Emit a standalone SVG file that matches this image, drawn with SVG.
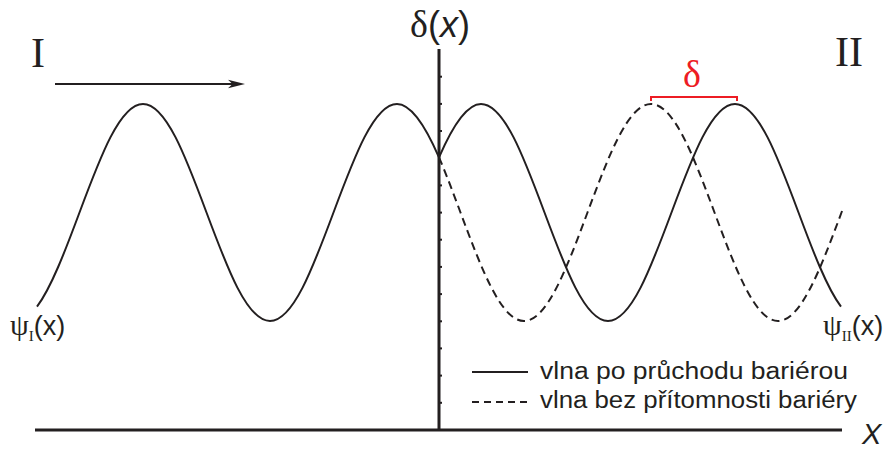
<svg xmlns="http://www.w3.org/2000/svg" width="892" height="450" viewBox="0 0 892 450">
<style>
.ln{fill:none;stroke:#231f20;stroke-width:2}
.dash{fill:none;stroke:#231f20;stroke-width:2;stroke-dasharray:8 5}
.axis{fill:none;stroke:#231f20;stroke-width:3}
.tick{stroke:#231f20;stroke-width:2}
.serif{font-family:"Liberation Serif","Times New Roman",serif;fill:#231f20}
.sans{font-family:"Liberation Sans",Arial,sans-serif;fill:#231f20}
.red{fill:#ed1c24}
</style>
<rect width="892" height="450" fill="#ffffff"/>
<g id="axes">
<line class="axis" x1="35" y1="430" x2="842" y2="430"/>
<line class="axis" x1="439" y1="49" x2="439" y2="430"/>
<g class="tick">
<line x1="439" y1="76.7" x2="442" y2="76.7"/>
<line x1="439" y1="103.9" x2="442" y2="103.9"/>
<line x1="439" y1="131" x2="442" y2="131"/>
<line x1="439" y1="185.4" x2="442" y2="185.4"/>
<line x1="439" y1="212.6" x2="442" y2="212.6"/>
<line x1="439" y1="239.7" x2="442" y2="239.7"/>
<line x1="439" y1="266.9" x2="442" y2="266.9"/>
<line x1="439" y1="294.1" x2="442" y2="294.1"/>
<line x1="439" y1="321.3" x2="442" y2="321.3"/>
<line x1="439" y1="348.4" x2="442" y2="348.4"/>
<line x1="439" y1="375.6" x2="442" y2="375.6"/>
<line x1="439" y1="402.8" x2="442" y2="402.8"/>
</g>
</g>
<g id="wave-I">
<path class="ln" d="M37 306.68 C51.17 287.8 65.33 250.52 79.5 212.5 C100.21 156.92 120.02 104 143 104 C165.98 104 185.79 156.92 206.5 212.5 C227.21 268.08 247.02 321 270 321 C292.98 321 312.79 268.08 333.5 212.5 C354.21 156.92 374.02 104 397 104 C411 104 425 125.06 439 157.44"/>
</g>
<g id="wave-II">
<path class="ln" d="M439 157.44 C453 125.06 467 104 481 104 C503.98 104 523.79 156.92 544.5 212.5 C565.21 268.08 585.02 321 608 321 C630.98 321 650.79 268.08 671.5 212.5 C692.21 156.92 712.02 104 735 104 C757.98 104 777.79 156.92 798.5 212.5 C812.67 250.52 826.83 287.8 841 306.68"/>
</g>
<g id="wave-no-barrier">
<path class="dash" d="M439 157.44 C446.17 174.02 453.33 193.26 460.5 212.5 C481.21 268.08 501.02 321 524 321 C546.98 321 566.79 268.08 587.5 212.5 C608.21 156.92 628.02 104 651 104 C673.98 104 693.79 156.92 714.5 212.5 C735.21 268.08 755.02 321 778 321 C800.98 321 820.79 268.08 841.5 212.5 L843 208.5"/>
</g>
<g id="arrow">
<line x1="55" y1="84" x2="236" y2="84" stroke="#231f20" stroke-width="2"/>
<polygon points="245,84 228,79.8 232.5,84 228,88.2" fill="#231f20"/>
</g>
<g id="delta-bracket">
<polyline points="651,101 651,97 737,97 737,101" fill="none" stroke="#ed1c24" stroke-width="2"/>
<text class="serif red" x="692" y="87" font-size="38" text-anchor="middle">δ</text>
</g>
<g id="labels">
<text class="serif" x="31" y="67" font-size="42">I</text>
<text class="serif" x="835" y="66" font-size="42">II</text>
<text x="410" y="37"><tspan class="serif" font-size="38">δ</tspan><tspan class="sans" font-size="36">(</tspan><tspan class="sans" font-size="36" font-style="italic">x</tspan><tspan class="sans" font-size="36">)</tspan></text>
<text x="10" y="334.5"><tspan class="serif" font-size="30">ψ</tspan><tspan class="serif" font-size="15" dy="6">I</tspan><tspan class="sans" font-size="27" dy="-6">(x)</tspan></text>
<text x="823" y="334.5"><tspan class="serif" font-size="30">ψ</tspan><tspan class="serif" font-size="15" dy="6">II</tspan><tspan class="sans" font-size="27" dy="-6">(x)</tspan></text>
<text class="sans" x="862" y="443.5" font-size="29" font-style="italic">X</text>
</g>
<g id="legend">
<line x1="472" y1="372" x2="528" y2="372" stroke="#231f20" stroke-width="2"/>
<text class="sans" x="540" y="379" font-size="23" textLength="308" lengthAdjust="spacingAndGlyphs">vlna po průchodu bariérou</text>
<line x1="472" y1="402" x2="528" y2="402" stroke="#231f20" stroke-width="2" stroke-dasharray="7 5"/>
<text class="sans" x="540" y="408" font-size="23" textLength="317" lengthAdjust="spacingAndGlyphs">vlna bez přítomnosti bariéry</text>
</g>
</svg>
